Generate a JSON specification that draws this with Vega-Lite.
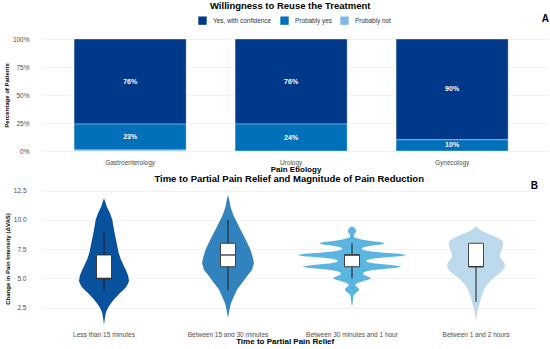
{
  "$schema": "https://vega.github.io/schema/vega-lite/v6.json",
  "padding": {"left": 3, "top": 0, "right": 0, "bottom": 0},
  "background": "white",
  "spacing": -1,
  "resolve": {"scale": {"color": "independent"}, "legend": {"color": "independent"}},
  "config": {
    "font": "Liberation Sans",
    "view": {"stroke": null},
    "axis": {"domain": false, "ticks": false, "labelOverlap": false, "labelFont": "Liberation Sans", "labelColor": "#4D4D4D", "labelFontSize": 6.5, "gridColor": "#EDEDED", "gridWidth": 0.7, "titleFont": "Liberation Sans", "titleFontWeight": "bold", "titleColor": "#000000"},
    "header": {"labelFont": "Liberation Sans", "titleFont": "Liberation Sans"},
    "title": {"font": "Liberation Sans", "color": "#000000"}
  },
  "vconcat": [
    {
      "title": {"text": "Willingness to Reuse the Treatment", "anchor": "middle", "fontSize": 9.5, "fontWeight": "bold", "offset": 4, "dx": 14},
      "vconcat": [
        {
          "title": {"text": "A", "anchor": "end", "fontSize": 10, "fontWeight": "bold", "dy": -12, "offset": 0},
          "width": 507,
          "height": 112,
          "data": {"values": [
            {"etiology": "Gastroenterology", "response": "Yes, with confidence", "pct": 0.76},
            {"etiology": "Gastroenterology", "response": "Probably yes", "pct": 0.23},
            {"etiology": "Gastroenterology", "response": "Probably not", "pct": 0.01},
            {"etiology": "Urology", "response": "Yes, with confidence", "pct": 0.76},
            {"etiology": "Urology", "response": "Probably yes", "pct": 0.24},
            {"etiology": "Gynecology", "response": "Yes, with confidence", "pct": 0.90},
            {"etiology": "Gynecology", "response": "Probably yes", "pct": 0.10}
          ]},
          "encoding": {
            "x": {"field": "etiology", "type": "nominal", "sort": ["Gastroenterology", "Urology", "Gynecology"],
                  "scale": {"paddingInner": 0.304, "paddingOuter": 0.2266, "align": 0.44},
                  "title": "Pain Etiology",
                  "axis": {"labelAngle": 0, "labelPadding": 8, "titlePadding": 0, "titleFontSize": 8, "grid": false}},
            "y": {"field": "pct", "type": "quantitative", "stack": "zero", "scale": {"domain": [0, 1], "nice": false},
                  "title": "Percentage of Patients",
                  "axis": {"values": [0, 0.25, 0.5, 0.75, 1], "format": ".0%", "labelPadding": 13, "titlePadding": 3, "titleFontSize": 6}},
            "order": {"field": "response", "sort": "ascending"}
          },
          "layer": [
            {
              "mark": {"type": "bar", "stroke": "#FFFFFF", "strokeWidth": 0.6, "strokeOpacity": 0.6},
              "encoding": {
                "color": {"field": "response", "type": "nominal",
                          "scale": {"domain": ["Yes, with confidence", "Probably yes", "Probably not"], "range": ["#00388A", "#0070BA", "#7DB9E6"]},
                          "legend": {"title": null, "orient": "none", "legendX": 156, "legendY": -23, "padding": 0, "direction": "horizontal", "symbolType": "square", "symbolSize": 70, "symbolStrokeWidth": 0, "labelFontSize": 6.4, "labelColor": "#333333", "columnPadding": 8, "labelOffset": 6}}
              }
            },
            {
              "mark": {"type": "text", "color": "#FFFFFF", "fontWeight": "bold", "fontSize": 7},
              "encoding": {
                "y": {"field": "pct", "type": "quantitative", "stack": "zero", "bandPosition": 0.5,
                      "title": "Percentage of Patients",
                      "axis": {"values": [0, 0.25, 0.5, 0.75, 1], "format": ".0%", "labelPadding": 13, "titlePadding": 3, "titleFontSize": 6}},
                "detail": {"field": "response", "type": "nominal"},
                "text": {"condition": {"test": "datum.pct < 0.05", "value": ""}, "field": "pct", "type": "quantitative", "format": ".0%"}
              }
            }
          ]
        }
      ]
    },
    {
      "title": {"text": "Time to Partial Pain Relief and Magnitude of Pain Reduction", "anchor": "middle", "fontSize": 9.5, "fontWeight": "bold", "offset": -2, "dx": 18},
      "vconcat": [
        {
          "title": {"text": "Time to Partial Pain Relief", "orient": "bottom", "anchor": "middle", "fontSize": 8, "fontWeight": "bold", "offset": -1, "dx": 14},
          "vconcat": [
            {
              "title": {"text": "B", "anchor": "end", "fontSize": 10, "fontWeight": "bold", "dy": 4, "offset": 0},
              "data": {"values": [
                {"time": "Less than 15 minutes", "lo": 4, "q1": 5, "med": 5, "q3": 7, "hi": 9},
                {"time": "Between 15 and 30 minutes", "lo": 4, "q1": 6, "med": 7, "q3": 8, "hi": 10},
                {"time": "Between 30 minutes and 1 hour", "lo": 5, "q1": 6, "med": 7, "q3": 7, "hi": 8},
                {"time": "Between 1 and 2 hours", "lo": 3, "q1": 6, "med": 6, "q3": 8, "hi": 8},

                {"time": "Less than 15 minutes", "v": 11.85, "d": 0},
                {"time": "Less than 15 minutes", "v": 11.5, "d": 1.4},
                {"time": "Less than 15 minutes", "v": 11.14, "d": 2.7},
                {"time": "Less than 15 minutes", "v": 10.57, "d": 6},
                {"time": "Less than 15 minutes", "v": 10.0, "d": 8.3},
                {"time": "Less than 15 minutes", "v": 9.15, "d": 10},
                {"time": "Less than 15 minutes", "v": 8.3, "d": 12},
                {"time": "Less than 15 minutes", "v": 7.16, "d": 14.7},
                {"time": "Less than 15 minutes", "v": 6.6, "d": 17},
                {"time": "Less than 15 minutes", "v": 6.03, "d": 20},
                {"time": "Less than 15 minutes", "v": 5.6, "d": 22.5},
                {"time": "Less than 15 minutes", "v": 5.18, "d": 24.3},
                {"time": "Less than 15 minutes", "v": 4.75, "d": 25},
                {"time": "Less than 15 minutes", "v": 4.33, "d": 22.7},
                {"time": "Less than 15 minutes", "v": 4.05, "d": 19.8},
                {"time": "Less than 15 minutes", "v": 3.76, "d": 16},
                {"time": "Less than 15 minutes", "v": 3.48, "d": 13},
                {"time": "Less than 15 minutes", "v": 3.2, "d": 10},
                {"time": "Less than 15 minutes", "v": 2.9, "d": 7.2},
                {"time": "Less than 15 minutes", "v": 2.63, "d": 5},
                {"time": "Less than 15 minutes", "v": 2.35, "d": 3.1},
                {"time": "Less than 15 minutes", "v": 2.06, "d": 1.7},
                {"time": "Less than 15 minutes", "v": 1.5, "d": 0.7},
                {"time": "Less than 15 minutes", "v": 1.05, "d": 0},

                {"time": "Between 15 and 30 minutes", "v": 12.13, "d": 0},
                {"time": "Between 15 and 30 minutes", "v": 11.7, "d": 1.2},
                {"time": "Between 15 and 30 minutes", "v": 11.14, "d": 2.5},
                {"time": "Between 15 and 30 minutes", "v": 10.7, "d": 4},
                {"time": "Between 15 and 30 minutes", "v": 10.29, "d": 6},
                {"time": "Between 15 and 30 minutes", "v": 9.85, "d": 8.5},
                {"time": "Between 15 and 30 minutes", "v": 9.43, "d": 11},
                {"time": "Between 15 and 30 minutes", "v": 9.0, "d": 13.5},
                {"time": "Between 15 and 30 minutes", "v": 8.59, "d": 16},
                {"time": "Between 15 and 30 minutes", "v": 8.16, "d": 18.6},
                {"time": "Between 15 and 30 minutes", "v": 7.73, "d": 21},
                {"time": "Between 15 and 30 minutes", "v": 7.3, "d": 23},
                {"time": "Between 15 and 30 minutes", "v": 6.88, "d": 24.5},
                {"time": "Between 15 and 30 minutes", "v": 6.31, "d": 26},
                {"time": "Between 15 and 30 minutes", "v": 5.75, "d": 24},
                {"time": "Between 15 and 30 minutes", "v": 5.18, "d": 19},
                {"time": "Between 15 and 30 minutes", "v": 4.61, "d": 14},
                {"time": "Between 15 and 30 minutes", "v": 4.05, "d": 9},
                {"time": "Between 15 and 30 minutes", "v": 3.48, "d": 6},
                {"time": "Between 15 and 30 minutes", "v": 2.91, "d": 3},
                {"time": "Between 15 and 30 minutes", "v": 2.35, "d": 1.5},
                {"time": "Between 15 and 30 minutes", "v": 1.78, "d": 0.3},
                {"time": "Between 15 and 30 minutes", "v": 1.6, "d": 0},

                {"time": "Between 30 minutes and 1 hour", "v": 9.45, "d": 0},
                {"time": "Between 30 minutes and 1 hour", "v": 9.4, "d": 1},
                {"time": "Between 30 minutes and 1 hour", "v": 9.3, "d": 2.5},
                {"time": "Between 30 minutes and 1 hour", "v": 9.2, "d": 3.5},
                {"time": "Between 30 minutes and 1 hour", "v": 9.1, "d": 4},
                {"time": "Between 30 minutes and 1 hour", "v": 9.0, "d": 4},
                {"time": "Between 30 minutes and 1 hour", "v": 8.9, "d": 3.5},
                {"time": "Between 30 minutes and 1 hour", "v": 8.8, "d": 2.5},
                {"time": "Between 30 minutes and 1 hour", "v": 8.7, "d": 2},
                {"time": "Between 30 minutes and 1 hour", "v": 8.6, "d": 2},
                {"time": "Between 30 minutes and 1 hour", "v": 8.5, "d": 2.5},
                {"time": "Between 30 minutes and 1 hour", "v": 8.4, "d": 6},
                {"time": "Between 30 minutes and 1 hour", "v": 8.3, "d": 10.5},
                {"time": "Between 30 minutes and 1 hour", "v": 8.2, "d": 18.7},
                {"time": "Between 30 minutes and 1 hour", "v": 8.1, "d": 28.3},
                {"time": "Between 30 minutes and 1 hour", "v": 8.0, "d": 33},
                {"time": "Between 30 minutes and 1 hour", "v": 7.9, "d": 29.3},
                {"time": "Between 30 minutes and 1 hour", "v": 7.8, "d": 20.7},
                {"time": "Between 30 minutes and 1 hour", "v": 7.7, "d": 13.5},
                {"time": "Between 30 minutes and 1 hour", "v": 7.6, "d": 10},
                {"time": "Between 30 minutes and 1 hour", "v": 7.5, "d": 9.5},
                {"time": "Between 30 minutes and 1 hour", "v": 7.4, "d": 12.2},
                {"time": "Between 30 minutes and 1 hour", "v": 7.3, "d": 19.2},
                {"time": "Between 30 minutes and 1 hour", "v": 7.2, "d": 32.3},
                {"time": "Between 30 minutes and 1 hour", "v": 7.1, "d": 47.5},
                {"time": "Between 30 minutes and 1 hour", "v": 7.0, "d": 55},
                {"time": "Between 30 minutes and 1 hour", "v": 6.9, "d": 48.3},
                {"time": "Between 30 minutes and 1 hour", "v": 6.8, "d": 33.9},
                {"time": "Between 30 minutes and 1 hour", "v": 6.7, "d": 21.6},
                {"time": "Between 30 minutes and 1 hour", "v": 6.6, "d": 15.5},
                {"time": "Between 30 minutes and 1 hour", "v": 6.5, "d": 14},
                {"time": "Between 30 minutes and 1 hour", "v": 6.4, "d": 15.3},
                {"time": "Between 30 minutes and 1 hour", "v": 6.3, "d": 20.8},
                {"time": "Between 30 minutes and 1 hour", "v": 6.2, "d": 31.1},
                {"time": "Between 30 minutes and 1 hour", "v": 6.1, "d": 43.2},
                {"time": "Between 30 minutes and 1 hour", "v": 6.0, "d": 50},
                {"time": "Between 30 minutes and 1 hour", "v": 5.9, "d": 42.8},
                {"time": "Between 30 minutes and 1 hour", "v": 5.8, "d": 30.3},
                {"time": "Between 30 minutes and 1 hour", "v": 5.7, "d": 19.6},
                {"time": "Between 30 minutes and 1 hour", "v": 5.6, "d": 13.7},
                {"time": "Between 30 minutes and 1 hour", "v": 5.5, "d": 11.5},
                {"time": "Between 30 minutes and 1 hour", "v": 5.4, "d": 11.1},
                {"time": "Between 30 minutes and 1 hour", "v": 5.3, "d": 12.1},
                {"time": "Between 30 minutes and 1 hour", "v": 5.2, "d": 14.7},
                {"time": "Between 30 minutes and 1 hour", "v": 5.1, "d": 17.8},
                {"time": "Between 30 minutes and 1 hour", "v": 5.0, "d": 19},
                {"time": "Between 30 minutes and 1 hour", "v": 4.9, "d": 16.7},
                {"time": "Between 30 minutes and 1 hour", "v": 4.8, "d": 12.5},
                {"time": "Between 30 minutes and 1 hour", "v": 4.7, "d": 8.5},
                {"time": "Between 30 minutes and 1 hour", "v": 4.6, "d": 5.5},
                {"time": "Between 30 minutes and 1 hour", "v": 4.5, "d": 3.5},
                {"time": "Between 30 minutes and 1 hour", "v": 4.4, "d": 3.5},
                {"time": "Between 30 minutes and 1 hour", "v": 4.3, "d": 4.5},
                {"time": "Between 30 minutes and 1 hour", "v": 4.2, "d": 6},
                {"time": "Between 30 minutes and 1 hour", "v": 4.1, "d": 7},
                {"time": "Between 30 minutes and 1 hour", "v": 4.0, "d": 7},
                {"time": "Between 30 minutes and 1 hour", "v": 3.9, "d": 6},
                {"time": "Between 30 minutes and 1 hour", "v": 3.8, "d": 4.5},
                {"time": "Between 30 minutes and 1 hour", "v": 3.7, "d": 3},
                {"time": "Between 30 minutes and 1 hour", "v": 3.6, "d": 2},
                {"time": "Between 30 minutes and 1 hour", "v": 3.5, "d": 1.5},
                {"time": "Between 30 minutes and 1 hour", "v": 3.3, "d": 1.2},
                {"time": "Between 30 minutes and 1 hour", "v": 3.0, "d": 0.8},
                {"time": "Between 30 minutes and 1 hour", "v": 2.8, "d": 0.5},
                {"time": "Between 30 minutes and 1 hour", "v": 2.6, "d": 0},

                {"time": "Between 1 and 2 hours", "v": 9.5, "d": 0},
                {"time": "Between 1 and 2 hours", "v": 9.3, "d": 2},
                {"time": "Between 1 and 2 hours", "v": 9.1, "d": 5},
                {"time": "Between 1 and 2 hours", "v": 8.9, "d": 10},
                {"time": "Between 1 and 2 hours", "v": 8.7, "d": 16},
                {"time": "Between 1 and 2 hours", "v": 8.5, "d": 21},
                {"time": "Between 1 and 2 hours", "v": 8.3, "d": 25},
                {"time": "Between 1 and 2 hours", "v": 8.1, "d": 27},
                {"time": "Between 1 and 2 hours", "v": 7.8, "d": 27},
                {"time": "Between 1 and 2 hours", "v": 7.5, "d": 26},
                {"time": "Between 1 and 2 hours", "v": 7.2, "d": 24.5},
                {"time": "Between 1 and 2 hours", "v": 6.9, "d": 24},
                {"time": "Between 1 and 2 hours", "v": 6.6, "d": 25.5},
                {"time": "Between 1 and 2 hours", "v": 6.3, "d": 28.5},
                {"time": "Between 1 and 2 hours", "v": 6.0, "d": 29},
                {"time": "Between 1 and 2 hours", "v": 5.7, "d": 27},
                {"time": "Between 1 and 2 hours", "v": 5.4, "d": 23},
                {"time": "Between 1 and 2 hours", "v": 5.1, "d": 18.5},
                {"time": "Between 1 and 2 hours", "v": 4.8, "d": 14.5},
                {"time": "Between 1 and 2 hours", "v": 4.5, "d": 11.5},
                {"time": "Between 1 and 2 hours", "v": 4.2, "d": 9},
                {"time": "Between 1 and 2 hours", "v": 3.9, "d": 7.5},
                {"time": "Between 1 and 2 hours", "v": 3.6, "d": 6},
                {"time": "Between 1 and 2 hours", "v": 3.3, "d": 5},
                {"time": "Between 1 and 2 hours", "v": 3.0, "d": 4},
                {"time": "Between 1 and 2 hours", "v": 2.7, "d": 3},
                {"time": "Between 1 and 2 hours", "v": 2.4, "d": 2},
                {"time": "Between 1 and 2 hours", "v": 2.1, "d": 1.2},
                {"time": "Between 1 and 2 hours", "v": 1.8, "d": 0.7},
                {"time": "Between 1 and 2 hours", "v": 1.5, "d": 0.3},
                {"time": "Between 1 and 2 hours", "v": 1.35, "d": 0}
              ]},
              "facet": {
                "column": {
                  "field": "time", "type": "nominal",
                  "sort": ["Less than 15 minutes", "Between 15 and 30 minutes", "Between 30 minutes and 1 hour", "Between 1 and 2 hours"],
                  "title": null,
                  "header": {"labelOrient": "bottom", "labelFontSize": 6.5, "labelColor": "#4D4D4D", "labelPadding": 2}
                }
              },
              "spacing": 0,
              "spec": {
                "width": 124,
                "height": 143,
                "resolve": {"scale": {"x": "independent"}},
                "encoding": {
                  "y": {"field": "v", "type": "quantitative", "scale": {"domain": [0.6, 12.8], "nice": false, "zero": false},
                        "title": "Change in Pain Intensity (\u0394VAS)",
                        "axis": {"values": [2.5, 5, 7.5, 10, 12.5], "format": ".1f", "labelPadding": 16, "titlePadding": 3, "titleFontSize": 6}}
                },
                "layer": [
                  {
                    "transform": [{"filter": "isValid(datum.d)"}],
                    "mark": {"type": "area", "orient": "horizontal"},
                    "encoding": {
                      "x": {"field": "d", "type": "quantitative", "scale": {"domain": [-62, 62]}, "axis": null},
                      "color": {"field": "time", "type": "nominal", "legend": null,
                                "scale": {"domain": ["Less than 15 minutes", "Between 15 and 30 minutes", "Between 30 minutes and 1 hour", "Between 1 and 2 hours"], "range": ["#08519C", "#3182BD", "#5BB5E1", "#BDD9EC"]}}
                    }
                  },
                  {
                    "transform": [{"filter": "isValid(datum.d)"}],
                    "mark": {"type": "area", "orient": "horizontal"},
                    "encoding": {
                      "x": {"field": "d", "type": "quantitative", "scale": {"domain": [-62, 62], "reverse": true}, "axis": null},
                      "color": {"field": "time", "type": "nominal", "legend": null}
                    }
                  },
                  {
                    "transform": [{"filter": "isValid(datum.med)"}],
                    "mark": {"type": "rule", "color": "#1A1A1A", "strokeWidth": 1},
                    "encoding": {
                      "y": {"field": "lo", "type": "quantitative", "title": "Change in Pain Intensity (\u0394VAS)",
                            "axis": {"values": [2.5, 5, 7.5, 10, 12.5], "format": ".1f", "labelPadding": 16, "titlePadding": 3, "titleFontSize": 6}},
                      "y2": {"field": "hi"},
                      "x": {"datum": 0, "type": "quantitative", "scale": {"domain": [-62, 62]}, "axis": null}
                    }
                  },
                  {
                    "transform": [{"filter": "isValid(datum.med)"}],
                    "mark": {"type": "rect", "fill": "#FFFFFF", "stroke": "#333333", "strokeWidth": 0.9},
                    "encoding": {
                      "y": {"field": "q1", "type": "quantitative", "title": "Change in Pain Intensity (\u0394VAS)",
                            "axis": {"values": [2.5, 5, 7.5, 10, 12.5], "format": ".1f", "labelPadding": 16, "titlePadding": 3, "titleFontSize": 6}},
                      "y2": {"field": "q3"},
                      "x": {"datum": -7.5, "type": "quantitative", "scale": {"domain": [-62, 62]}, "axis": null},
                      "x2": {"datum": 7.5}
                    }
                  },
                  {
                    "transform": [{"filter": "isValid(datum.med)"}],
                    "mark": {"type": "rule", "color": "#333333", "strokeWidth": 1.3},
                    "encoding": {
                      "y": {"field": "med", "type": "quantitative", "title": "Change in Pain Intensity (\u0394VAS)",
                            "axis": {"values": [2.5, 5, 7.5, 10, 12.5], "format": ".1f", "labelPadding": 16, "titlePadding": 3, "titleFontSize": 6}},
                      "x": {"datum": -7.5, "type": "quantitative", "scale": {"domain": [-62, 62]}, "axis": null},
                      "x2": {"datum": 7.5}
                    }
                  }
                ]
              }
            }
          ]
        }
      ]
    }
  ]
}
